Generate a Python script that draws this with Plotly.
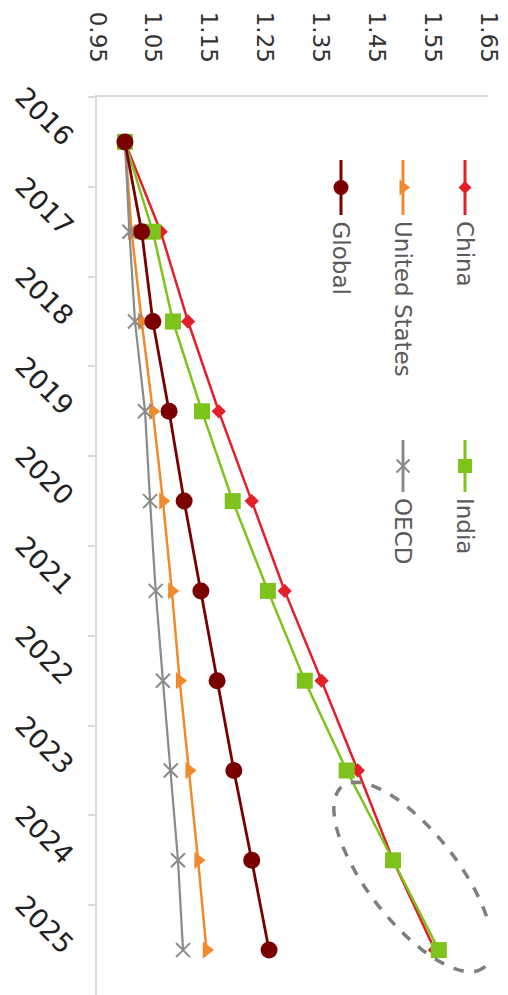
import numpy as np
import plotly.graph_objects as go

years = ["2016", "2017", "2018", "2019", "2020", "2021", "2022", "2023", "2024", "2025"]
china = [1.000, 1.064, 1.113, 1.168, 1.227, 1.286, 1.352, 1.417, 1.480, 1.555]
india = [1.000, 1.050, 1.086, 1.138, 1.193, 1.256, 1.322, 1.397, 1.480, 1.562]
united_states = [1.000, 1.012, 1.030, 1.050, 1.068, 1.084, 1.098, 1.115, 1.131, 1.146]
oecd = [1.000, 1.008, 1.018, 1.036, 1.045, 1.055, 1.068, 1.082, 1.095, 1.104]
global_ = [1.000, 1.030, 1.050, 1.079, 1.106, 1.136, 1.165, 1.195, 1.227, 1.258]
x_ticks = [0.95, 1.05, 1.15, 1.25, 1.35, 1.45, 1.55, 1.65]

C_CHINA = "#e3202a"
C_INDIA = "#7ec31c"
C_US = "#f08a2c"
C_OECD = "#8a8a8a"
C_GLOBAL = "#7a0000"

# page has an 8px body margin; size the figure to fit inside the window
OFF = 8
W, H = 508 - OFF, 995 - OFF
ML, MR, MT, MB = 97 - OFF, 20, 97 - OFF, 0
PX0, PX1 = OFF + ML, OFF + W - MR          # plot area in page pixels
PY0, PY1 = OFF + MT, OFF + H - MB

series = [
    ("China", china, C_CHINA, "diamond", 11, 2.5),
    ("United States", united_states, C_US, "triangle-right", 15, 2.5),
    ("OECD", oecd, C_OECD, "x-thin-open", 14, 2.2),
    ("India", india, C_INDIA, "square", 16, 2.5),
    ("Global", global_, C_GLOBAL, "circle", 17, 2.8),
]

fig = go.Figure()
for name, vals, col, sym, size, lw in series:
    fig.add_trace(go.Scatter(
        x=vals, y=years, mode="lines+markers", name=name,
        line=dict(color=col, width=lw),
        marker=dict(symbol=sym, size=size, color=col,
                    line=dict(color=col, width=2 if sym == "x-thin-open" else 0)),
        showlegend=False, xaxis="x", yaxis="y",
    ))

# Legend (rotated), drawn in page-pixel overlay axes
legend_items = [
    ("China", C_CHINA, "diamond", 10, 465, 160, 215),
    ("United States", C_US, "triangle-right", 14, 403, 160, 215),
    ("Global", C_GLOBAL, "circle", 15, 341, 160, 215),
    ("India", C_INDIA, "square", 14, 465, 440, 492),
    ("OECD", C_OECD, "x-thin-open", 13, 403, 440, 492),
]
annotations = []
for name, col, sym, size, lx, y0, y1 in legend_items:
    ym = (y0 + y1) / 2
    fig.add_trace(go.Scatter(
        x=[lx, lx], y=[y0, y1], mode="lines",
        line=dict(color=col, width=3),
        showlegend=False, xaxis="x2", yaxis="y2", hoverinfo="skip",
    ))
    fig.add_trace(go.Scatter(
        x=[lx], y=[ym], mode="markers",
        marker=dict(symbol=sym, size=size, color=col,
                    line=dict(color=col, width=2 if sym == "x-thin-open" else 0)),
        showlegend=False, xaxis="x2", yaxis="y2", hoverinfo="skip",
    ))
    annotations.append(dict(
        x=lx, y=y1 + 4, xref="x2", yref="y2", text=name, showarrow=False,
        textangle=90, xanchor="center", yanchor="top",
        font=dict(family="DejaVu Sans", size=23, color="#5a5a5a"),
    ))

# Dashed ellipse highlight (page pixel coordinates)
cx, cy, a, b, th = 413, 877, 115, 45, np.deg2rad(52)
t = np.linspace(0, 2 * np.pi, 90)
ex = cx + a * np.cos(t) * np.cos(th) - b * np.sin(t) * np.sin(th)
ey = cy + a * np.cos(t) * np.sin(th) + b * np.sin(t) * np.cos(th)
path = "M " + " L ".join(f"{px:.1f},{py:.1f}" for px, py in zip(ex, ey)) + " Z"
shapes = [dict(type="path", path=path, xref="x2", yref="y2",
               line=dict(color="#7f7f7f", width=3.5, dash="dash"))]

fig.update_layout(
    width=W, height=H,
    margin=dict(l=ML, r=MR, t=MT, b=MB, autoexpand=False),
    paper_bgcolor="white", plot_bgcolor="white",
    showlegend=False,
    annotations=annotations, shapes=shapes,
    xaxis=dict(
        side="top", range=[0.95, 1.65], tickvals=x_ticks,
        ticktext=[f"{v:.2f}" for v in x_ticks],
        tickangle=90, showgrid=False, zeroline=False,
        showline=True, linecolor="#dcdcdc", linewidth=2,
        ticks="", ticklabelstandoff=24, automargin=False,
        tickfont=dict(family="DejaVu Sans", size=23, color="#333333"),
    ),
    yaxis=dict(
        type="category", categoryorder="array", categoryarray=years,
        range=[9.5, -0.5], autorange=False,
        tickangle=45, showgrid=False, zeroline=False,
        showline=True, linecolor="#dcdcdc", linewidth=2,
        ticks="outside", tickson="boundaries", ticklen=7,
        tickcolor="#dcdcdc", tickwidth=1.5, ticklabelstandoff=18,
        automargin=False,
        tickfont=dict(family="DejaVu Sans", size=27, color="#222222"),
    ),
    xaxis2=dict(overlaying="x", range=[PX0, PX1], visible=False,
                anchor="y2", fixedrange=True),
    yaxis2=dict(overlaying="y", range=[PY1, PY0], visible=False,
                anchor="x2", fixedrange=True),
)

fig.write_html("out.html")
